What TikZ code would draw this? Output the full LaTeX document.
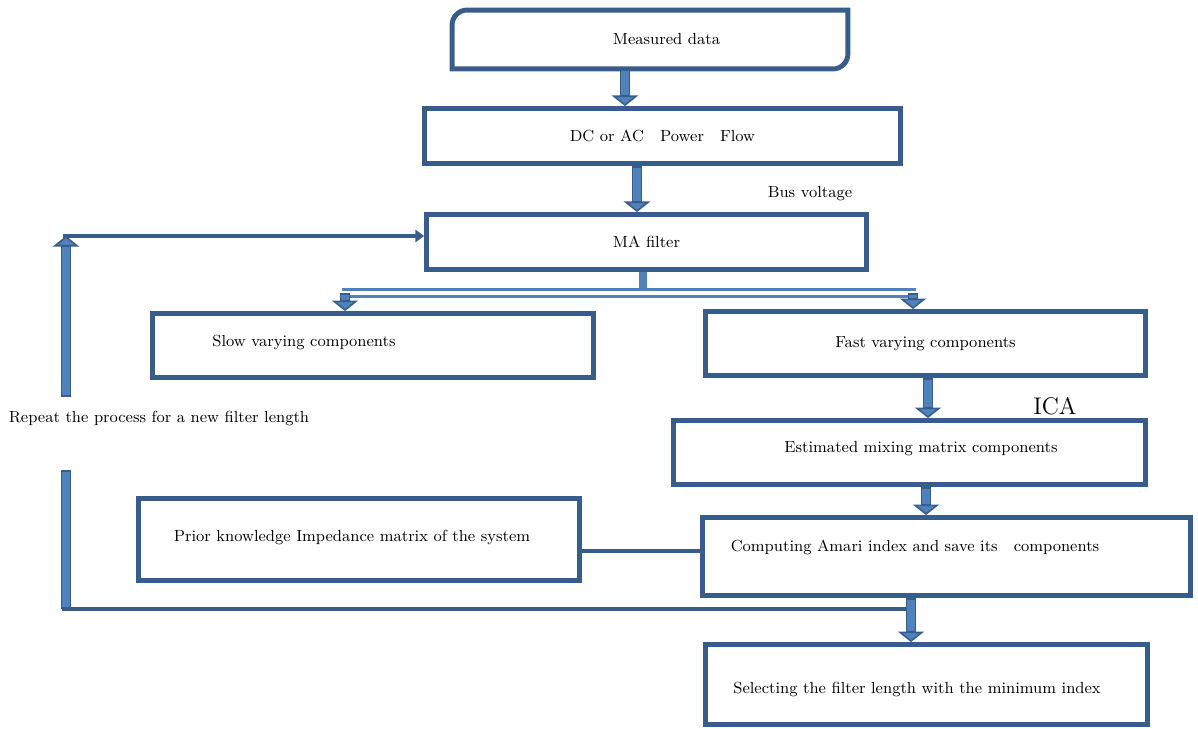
\documentclass[tikz,border=0pt]{standalone}
\usetikzlibrary{positioning}
\usetikzlibrary{calc}
\usetikzlibrary{arrows.meta}
\definecolor{edgeblue}{RGB}{56,93,138}
\definecolor{fillblue}{RGB}{79,129,189}

\tikzset{
  box/.style={draw=edgeblue, line width=2.8pt, fill=white, inner sep=0pt,
              font=\fontsize{9.15}{11}\selectfont},
  boxtext/.style={font=\fontsize{9.15}{11}\selectfont, inner sep=0pt},
  blockarrow/.style={draw=edgeblue, line width=6pt,
              -{Triangle[length=6pt,width=15pt,fill=fillblue,line width=0.9pt]},
              postaction={draw=fillblue, line width=4pt, -, shorten >=6.5pt, shorten <=1pt}},
  blockbar/.style={draw=edgeblue, line width=6pt,
              postaction={draw=fillblue, line width=4pt, shorten >=1pt, shorten <=1pt}},
  hollowbar/.style={draw=fillblue, line width=1.8pt, double=white, double distance=2.4pt},
  link/.style={draw=edgeblue, line width=2.4pt},
  linkarrow/.style={link, -{Triangle[length=5pt,width=7pt]}}
}

\begin{document}
\begin{tikzpicture}[x=0.02cm, y=-0.02cm]
\useasboundingbox (0,0) rectangle (1198,729);

%---------------------------------------
% Boxes
%---------------------------------------
\node[box, draw=none, minimum width=7.82cm, minimum height=1.08cm,
      label={[boxtext, xshift=0.33cm]center:Measured data}] (md) at (650,39.5) {};
\draw[edgeblue, line width=2.8pt] (md.south west) -- ([yshift=-0.3cm]md.north west)
      arc[start angle=180, end angle=90, radius=0.3cm] -- (md.north east)
      -- ([yshift=0.3cm]md.south east)
      arc[start angle=0, end angle=-90, radius=0.3cm] -- cycle;

\node[box, minimum width=9.52cm, minimum height=1.1cm] (dc) at (662.5,136)
      {DC or AC\quad Power\quad Flow};
\node[box, minimum width=8.8cm, minimum height=1.1cm] (ma) at (646.5,242) {MA filter};

\node[box, minimum width=8.82cm, minimum height=1.28cm,
      label={[boxtext, xshift=-1.38cm, yshift=0.07cm]center:Slow varying components}]
      (slow) at (373,345.5) {};
\node[box, minimum width=8.8cm, minimum height=1.28cm] (fast) at (925.5,343.5)
      {Fast varying components};
\node[box, minimum width=9.44cm, minimum height=1.28cm,
      label={[boxtext, xshift=0.23cm, yshift=0.07cm]center:Estimated mixing matrix components}]
      (est) at (909.5,452.5) {};
\node[box, minimum width=8.82cm, minimum height=1.64cm,
      label={[boxtext, xshift=-0.14cm, yshift=0.05cm]center:Prior knowledge Impedance matrix of the system}]
      (prior) at (359,539.5) {};
\node[box, minimum width=9.78cm, minimum height=1.56cm,
      label={[boxtext, xshift=-0.63cm, yshift=0.19cm]center:Computing Amari index and save its\quad components}]
      (comp) at (946.5,556.5) {};
\node[box, minimum width=8.84cm, minimum height=1.6cm,
      label={[boxtext, xshift=-0.19cm, yshift=-0.09cm]center:Selecting the filter length with the minimum index}]
      (sel) at (926.5,684.5) {};

% Labels
\node[boxtext] (bus) at (810,194) {Bus voltage};
\node[font=\fontsize{13.7}{16}\selectfont, inner sep=0pt] (ica) at (1055,406) {ICA};
\node[boxtext] (repeat) at (159,418) {Repeat the process for a new filter length};

%---------------------------------------
% Main flow
%---------------------------------------
\draw[blockarrow] (md.south -| 625,0) -- (dc.north -| 625,0);
\draw[blockarrow] (dc.south -| 637,0) -- (ma.north -| 637,0);

% split after the filter
\coordinate (split) at (643,293);
\coordinate (splitL) at (345,293);
\coordinate (splitR) at (913,293);
\draw[fillblue, line width=5pt] (ma.south -| split) -- (split);
\draw[hollowbar] ([xshift=-0.06cm]splitL) -- ([xshift=0.06cm]splitR);
\draw[blockarrow] (splitL) -- (slow.north -| splitL);
\draw[blockarrow] (splitR) -- (fast.north -| splitR);

\draw[blockarrow] (fast.south -| 928,0) -- (est.north -| 928,0);
\draw[blockarrow] (est.south -| 926,0) -- (comp.north -| 926,0);
\draw[link] ([yshift=-0.23cm]prior.east) -- ([yshift=-0.23cm]prior.east -| comp.west);

%---------------------------------------
% Feedback loop
%---------------------------------------
\coordinate (fbR) at (911,609);
\coordinate (fbL) at (66,609);
\coordinate (gapB) at (66,470);
\coordinate (gapT) at (66,397);
\coordinate (fbT) at (66,236);
\draw[link] (fbR) -- ([xshift=-0.08cm]fbL);
\draw[blockbar] (fbL) -- (gapB);
\draw[blockarrow] (gapT) -- (fbT);
\draw[linkarrow] ([xshift=-0.06cm]fbT) -- (ma.west |- fbT);

\draw[blockarrow] (comp.south -| fbR) -- (sel.north -| fbR);

\end{tikzpicture}
\end{document}
